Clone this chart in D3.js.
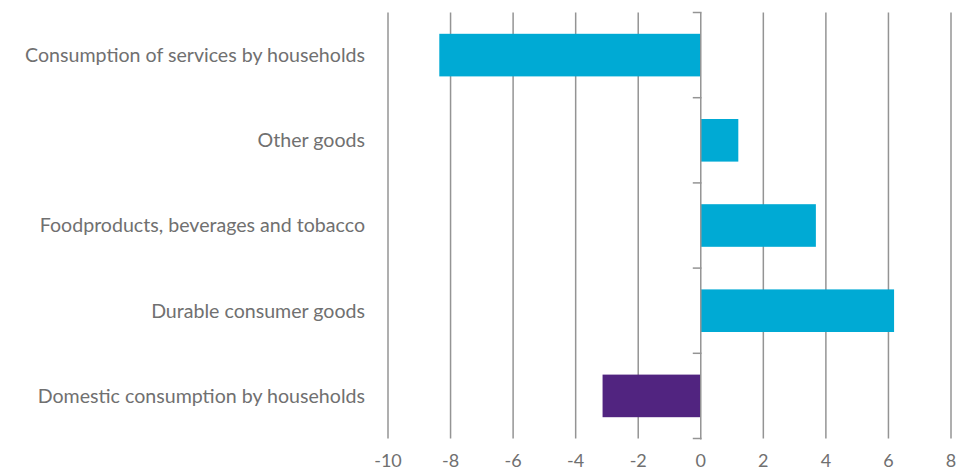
<!DOCTYPE html>
<html>
<head>
<meta charset="utf-8">
<script src="https://cdn.jsdelivr.net/npm/d3@7"></script>
<style>
  html, body { margin: 0; padding: 0; background: #fff; }
  svg { display: block; }
  text { font-family: Lato, sans-serif; fill: #707070; }
</style>
</head>
<body>
<svg id="chart" width="957" height="471"></svg>
<script>
// Contribution to change in household consumption, by category
const categories = [
  "Consumption of services by households",
  "Other goods",
  "Foodproducts, beverages and tobacco",
  "Durable consumer goods",
  "Domestic consumption by households"
];
const values = [-8.36, 1.2, 3.68, 6.18, -3.14];
const colors = ["#00aad4", "#00aad4", "#00aad4", "#00aad4", "#512480"];
const xTicks = [-10, -8, -6, -4, -2, 0, 2, 4, 6, 8];

const svg = d3.select("#chart");
const plotLeft = 388, plotRight = 951, plotTop = 12.5, plotBottom = 438.5;

const x = d3.scaleLinear().domain([-10, 8]).range([plotLeft, plotRight]);
const y = d3.scaleBand().domain(categories).range([plotTop, plotBottom])
  .paddingInner(0.5).paddingOuter(0.25);

// vertical gridlines
svg.append("g").selectAll("line").data(xTicks.filter(d => d !== 0)).join("line")
  .attr("x1", d => x(d)).attr("x2", d => x(d))
  .attr("y1", plotTop).attr("y2", plotBottom)
  .attr("stroke", "#949494").attr("stroke-width", 1.5);

// bars
svg.append("g").selectAll("rect").data(categories).join("rect")
  .attr("x", (d, i) => Math.min(x(0), x(values[i])))
  .attr("width", (d, i) => Math.abs(x(values[i]) - x(0)))
  .attr("y", d => y(d))
  .attr("height", y.bandwidth())
  .attr("fill", (d, i) => colors[i]);

// category axis on the zero line with band boundary ticks
const bounds = d3.range(categories.length + 1).map(i => plotTop + i * y.step());
const zeroAxis = svg.append("g");
zeroAxis.append("line")
  .attr("x1", x(0)).attr("x2", x(0)).attr("y1", plotTop).attr("y2", plotBottom + 1)
  .attr("stroke", "#949494").attr("stroke-width", 1.5);
zeroAxis.selectAll("line.tick").data(bounds).join("line")
  .attr("class", "tick")
  .attr("x1", x(0) - 8).attr("x2", x(0) + 0.75)
  .attr("y1", d => d).attr("y2", d => d)
  .attr("stroke", "#949494").attr("stroke-width", 1.5);

// category labels
svg.append("g").selectAll("text").data(categories).join("text")
  .attr("x", 365)
  .attr("y", d => y(d) + y.bandwidth() / 2)
  .attr("dy", "0.35em")
  .attr("text-anchor", "end")
  .attr("font-size", 19.6)
  .text(d => d);

// x tick labels
svg.append("g").selectAll("text").data(xTicks).join("text")
  .attr("x", d => x(d))
  .attr("y", 467)
  .attr("text-anchor", "middle")
  .attr("font-size", 18)
  .text(d => d);
</script>
</body>
</html>
